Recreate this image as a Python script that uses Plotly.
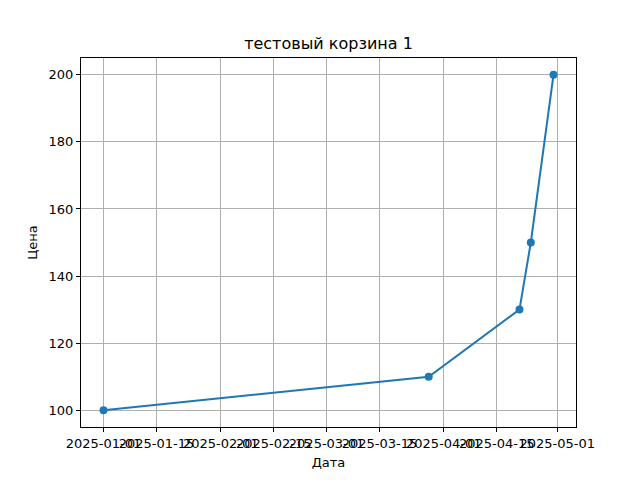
import plotly.graph_objects as go

dates = ["2025-01-01", "2025-03-28", "2025-04-21", "2025-04-24", "2025-04-30"]
prices = [100, 110, 130, 150, 200]
tick_dates = ["2025-01-01", "2025-01-15", "2025-02-01", "2025-02-15", "2025-03-01",
              "2025-03-15", "2025-04-01", "2025-04-15", "2025-05-01"]
tick_labels = tick_dates
y_ticks = [100, 120, 140, 160, 180, 200]

fig = go.Figure()
fig.add_trace(go.Scatter(
    x=dates, y=prices, mode="lines+markers",
    line=dict(color="#1f77b4", width=2),
    marker=dict(color="#1f77b4", size=8),
    showlegend=False,
))

axis_common = dict(
    showline=True, linecolor="black", linewidth=1, mirror=True,
    ticks="outside", ticklen=4, tickcolor="black", tickwidth=1,
    showgrid=True, gridcolor="#b0b0b0", gridwidth=0.8,
    zeroline=False,
    tickfont=dict(family="DejaVu Sans", size=13, color="black"),
)

fig.update_layout(
    width=632, height=472,
    margin=dict(l=73, r=64, t=50, b=53),
    paper_bgcolor="white", plot_bgcolor="white",
    font=dict(family="DejaVu Sans", color="black"),
    title=dict(text="тестовый корзина 1", x=0.5, xref="paper", xanchor="center",
               y=1, yref="paper", yanchor="bottom", pad=dict(b=9),
               font=dict(family="DejaVu Sans", size=16, color="black")),
    xaxis=dict(
        **axis_common,
        type="date",
        range=["2024-12-26 01:12", "2025-05-05 22:48"],
        tickmode="array", tickvals=tick_dates, ticktext=tick_labels,
        tickangle=0,
        title=dict(text="Дата", font=dict(family="DejaVu Sans", size=13, color="black"), standoff=8),
    ),
    yaxis=dict(
        **axis_common,
        range=[95, 205],
        tickmode="array", tickvals=y_ticks,
        title=dict(text="Цена", font=dict(family="DejaVu Sans", size=13, color="black"), standoff=8),
    ),
)

fig.write_html("out.html")
